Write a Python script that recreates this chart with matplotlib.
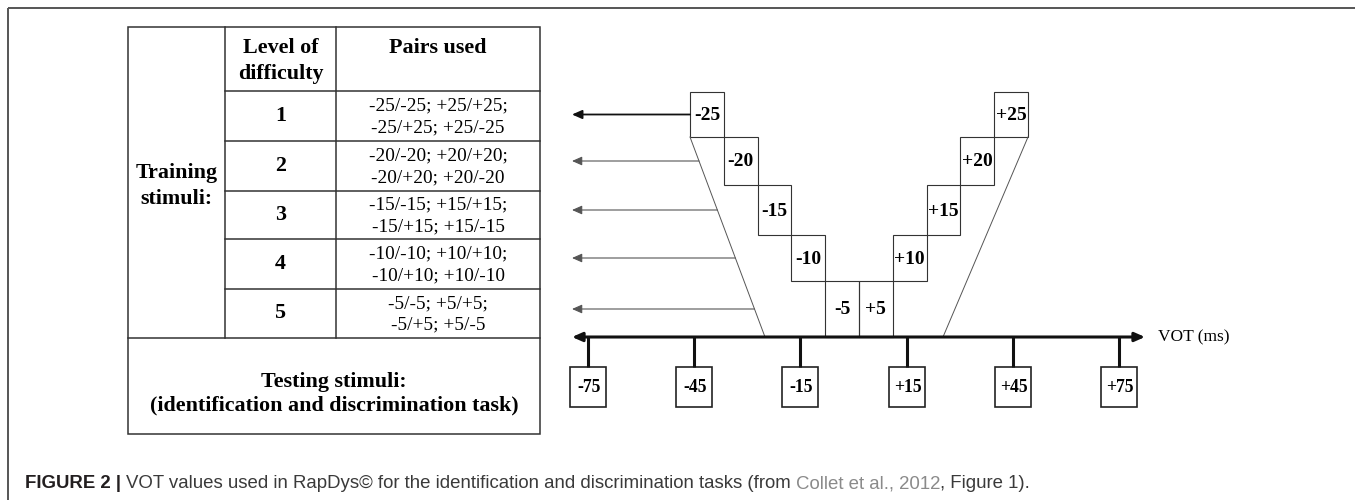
import matplotlib
matplotlib.use("Agg")
import matplotlib.pyplot as plt
from matplotlib.patches import Rectangle
from matplotlib import font_manager

# --- data ---
levels = [1, 2, 3, 4, 5]
training_vot = [25, 20, 15, 10, 5]          # one level per row
test_vot = [-75, -45, -15, 15, 45, 75]       # testing continuum
axis_label = "VOT (ms)"

# --- layout (pixels, y down) ---
W, H = 1355, 500
tab_x = [128, 225, 336, 540]                 # column borders
tab_y = [27, 91, 141, 191, 239, 289, 338, 434]  # row borders
box_x0, box_w = 690, 33.8                    # staircase
box_top = [92, 137, 185, 235, 281]
axis_y = 337
arrow_x = 572
vot_x0, vot_scale = 853.5, 3.54             # px at 0 ms, px per ms

serif = "Liberation Serif"
names = {f.name for f in font_manager.fontManager.ttflist}
cap_font = "Liberation Sans Narrow" if "Liberation Sans Narrow" in names else "Liberation Sans"

fig = plt.figure(figsize=(W / 100, H / 100), dpi=100)
ax = fig.add_axes([0, 0, 1, 1])
ax.set_xlim(0, W)
ax.set_ylim(H, 0)
ax.axis("off")

# outer frame (top + left only)
ax.plot([8, W], [8, 8], color="#555555", lw=1.4, solid_capstyle="butt")
ax.plot([8, 8], [8, H], color="#555555", lw=1.4, solid_capstyle="butt")

# ---------------- table ----------------
lc, lw_t = "#333333", 1.1
ax.add_patch(Rectangle((tab_x[0], tab_y[0]), tab_x[-1] - tab_x[0], tab_y[-1] - tab_y[0],
                       fill=False, ec=lc, lw=lw_t))
ax.plot([tab_x[1], tab_x[1]], [tab_y[0], tab_y[6]], color=lc, lw=lw_t)
ax.plot([tab_x[2], tab_x[2]], [tab_y[0], tab_y[6]], color=lc, lw=lw_t)
for y in tab_y[1:6]:
    ax.plot([tab_x[1], tab_x[3]], [y, y], color=lc, lw=lw_t)
ax.plot([tab_x[0], tab_x[3]], [tab_y[6], tab_y[6]], color=lc, lw=lw_t)

c1 = (tab_x[0] + tab_x[1]) / 2
c2 = (tab_x[1] + tab_x[2]) / 2
c3 = (tab_x[2] + tab_x[3]) / 2
hdr = dict(family=serif, fontweight="bold", fontsize=15.8, ha="center")
ax.text(c2, 61, "Level of\ndifficulty", va="center", linespacing=1.35, **hdr)
ax.text(c3, 48, "Pairs used", va="center", **hdr)
ax.text(c1, 186, "Training\nstimuli:", va="center", linespacing=1.4, **hdr)
ax.text((tab_x[0] + tab_x[3]) / 2, 394,
        "Testing stimuli:\n(identification and discrimination task)",
        va="center", linespacing=1.2, **hdr)

for i, (lev, v) in enumerate(zip(levels, training_vot)):
    yc = (tab_y[i + 1] + tab_y[i + 2]) / 2
    ax.text(c2, yc, str(lev), va="center", **hdr)
    pair = f"-{v}/-{v}; +{v}/+{v};\n-{v}/+{v}; +{v}/-{v}"
    ax.text(c3, yc + 1, pair, family=serif, fontsize=13.9, ha="center", va="center",
            linespacing=1.32)

# ---------------- staircase ----------------
n = len(training_vot)
box_bot = box_top[1:] + [axis_y]
for i, v in enumerate(training_vot):
    y0, y1 = box_top[i], box_bot[i]
    for col, lab in [(i, f"-{v}"), (2 * n - 1 - i, f"+{v}")]:
        x = box_x0 + col * box_w
        ax.add_patch(Rectangle((x, y0), box_w, y1 - y0, fill=False, ec="#333333", lw=0.8))
        ax.text(x + box_w / 2, (y0 + y1) / 2 + 1, lab, family=serif, fontweight="bold",
                fontsize=14, ha="center", va="center")

# diagonals
left_top = (box_x0, box_bot[0])
left_bot = (765, axis_y)
right_top = (box_x0 + 2 * n * box_w, box_bot[0])
right_bot = (943, axis_y)
ax.plot([left_top[0], left_bot[0]], [left_top[1], left_bot[1]], color="#555555", lw=0.7)
ax.plot([right_top[0], right_bot[0]], [right_top[1], right_bot[1]], color="#555555", lw=0.7)

# arrows from the staircase back to the table
for i in range(n):
    y = (box_top[i] + box_bot[i]) / 2
    if i == 0:
        x_end, lw_a, col = box_x0, 1.3, "#111111"
    else:
        t = (y - left_top[1]) / (left_bot[1] - left_top[1])
        x_end = left_top[0] + t * (left_bot[0] - left_top[0])
        lw_a, col = 0.8, "#555555"
    ax.annotate("", xy=(arrow_x, y), xytext=(x_end, y),
                arrowprops=dict(arrowstyle="-|>,head_length=0.5,head_width=0.22",
                                lw=lw_a, color=col, shrinkA=0, shrinkB=0,
                                mutation_scale=12))

# VOT axis
ax.annotate("", xy=(1145, axis_y), xytext=(arrow_x, axis_y),
            arrowprops=dict(arrowstyle="<|-|>,head_length=0.5,head_width=0.22",
                            lw=2.2, color="#111111", shrinkA=0, shrinkB=0,
                            mutation_scale=12))
ax.text(1158, axis_y, axis_label, family=serif, fontsize=12.5, ha="left", va="center")

# testing stimuli ticks and boxes
for v in test_vot:
    x = vot_x0 + vot_scale * v
    ax.plot([x, x], [axis_y, 367], color="#111111", lw=2.2, solid_capstyle="butt")
    ax.add_patch(Rectangle((x - 18, 367), 36, 40, fill=False, ec="#222222", lw=1.2))
    lab = f"{v:+d}" if v > 0 else f"{v}"
    ax.text(x + 1, 388, lab, family=serif, fontweight="bold", fontsize=12.7,
            ha="center", va="center")

# ---------------- caption ----------------
fig.canvas.draw()
renderer = fig.canvas.get_renderer()
parts = [("FIGURE 2 | ", "bold", "#231f20"),
         ("VOT values used in RapDys© for the identification and discrimination tasks (from ", "normal", "#3a3a3a"),
         ("Collet et al., 2012", "normal", "#8a8a8a"),
         (", Figure 1).", "normal", "#3a3a3a")]
x = 25
inv = ax.transData.inverted()
for s, wt, col in parts:
    t = ax.text(x, 484, s, family=cap_font, fontweight=wt, fontsize=13.4, color=col,
                ha="left", va="center")
    bb = t.get_window_extent(renderer=renderer)
    x = inv.transform((bb.x1, bb.y0))[0]

fig.savefig("out.png", dpi=100)
